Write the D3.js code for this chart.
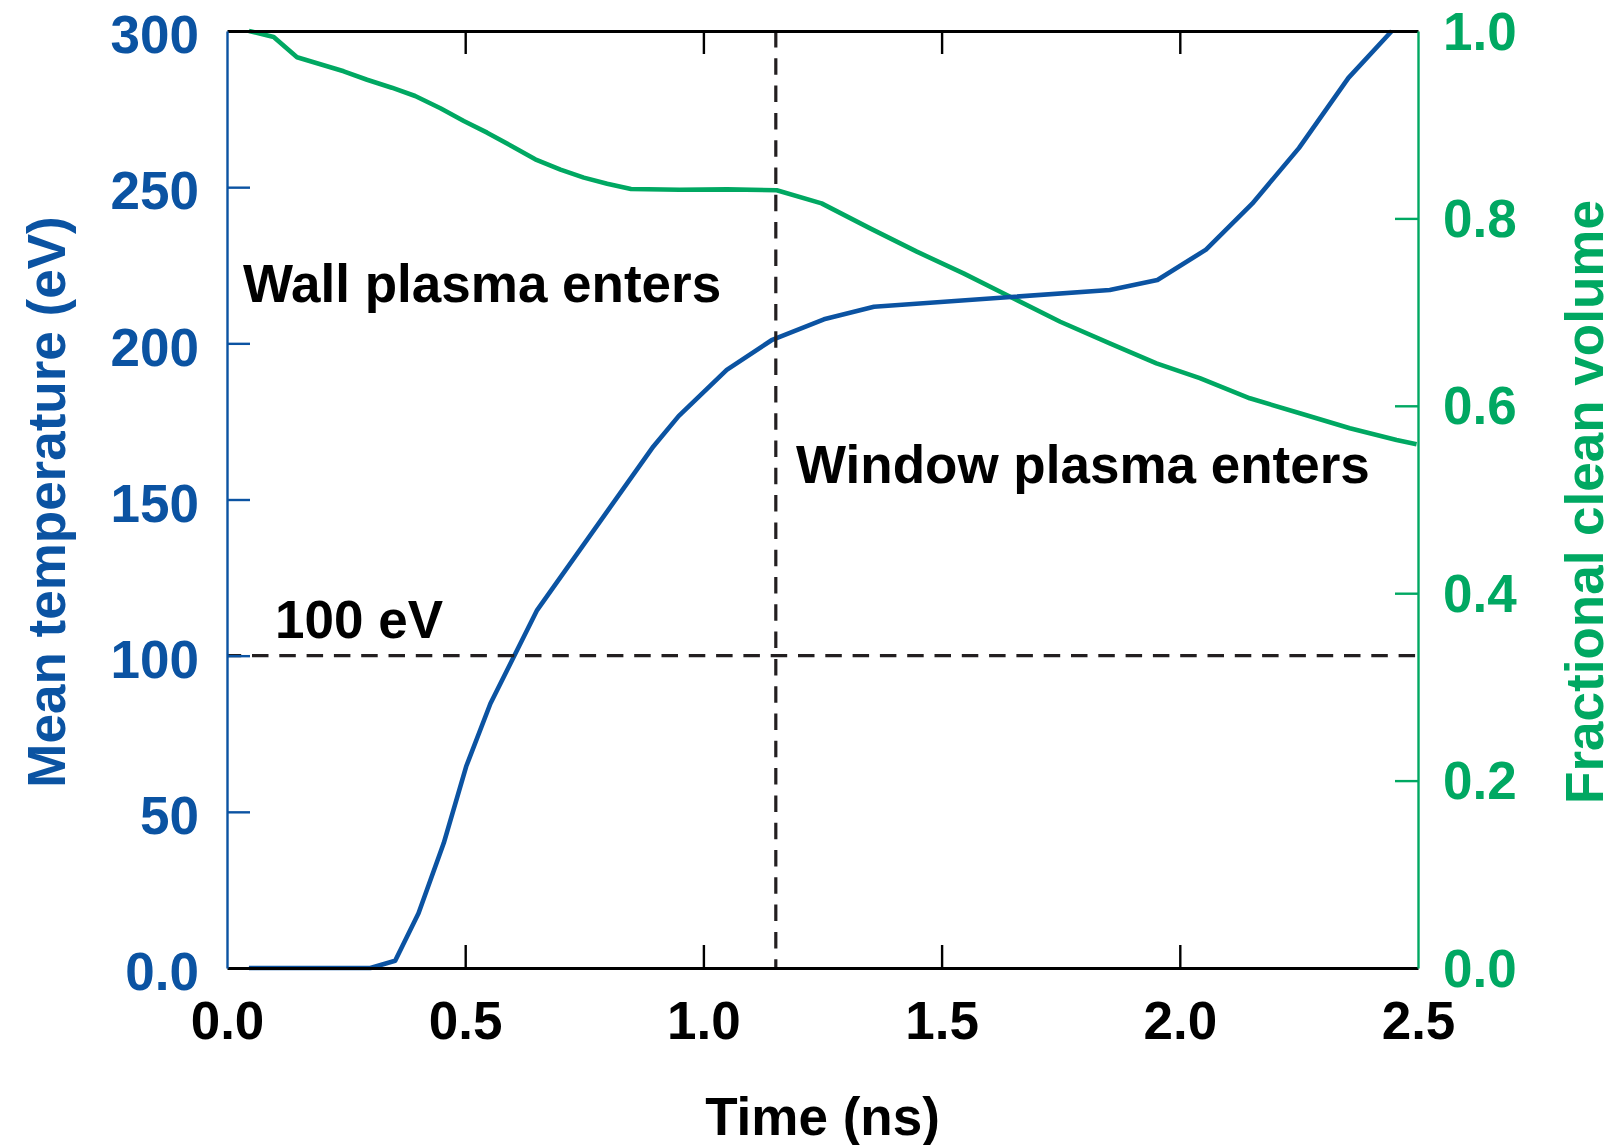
<!DOCTYPE html>
<html>
<head>
<meta charset="utf-8">
<script src="https://cdn.jsdelivr.net/npm/d3@7"></script>
<style>
  html, body { margin: 0; padding: 0; background: #fff; }
  svg { display: block; }
  text { font-family: "Liberation Sans", Arial, Helvetica, sans-serif; font-weight: bold; }
</style>
</head>
<body>
<svg id="chart" width="1616" height="1145"></svg>
<script>
// Mean temperature of the hot spot (eV) against time (ns)
const timeTemp = [0.046, 0.301, 0.353, 0.402, 0.455, 0.502, 0.553, 0.651, 0.895, 0.948,
                  1.049, 1.143, 1.253, 1.358, 1.853, 1.953, 2.055, 2.152, 2.250, 2.354, 2.445];
const meanTemp = [0, 0, 2.3, 17.5, 40, 64.5, 84.7, 114.6, 167, 176.7,
                  191.5, 201, 207.7, 211.7, 217.1, 220.3, 230, 244.7, 262.5, 285, 300];

// Fraction of the volume still free of mix, against time (ns)
const timeClean = [0.046, 0.098, 0.147, 0.196, 0.245, 0.294, 0.346, 0.395, 0.448, 0.497,
                   0.546, 0.598, 0.647, 0.700, 0.749, 0.798, 0.848, 0.950, 1.050, 1.154,
                   1.248, 1.350, 1.448, 1.546, 1.644, 1.749, 1.853, 1.951, 2.042, 2.147,
                   2.252, 2.357, 2.455, 2.497];
const cleanVolume = [1.0, 0.9936, 0.972, 0.9645, 0.957, 0.948, 0.9395, 0.9306, 0.9175, 0.904,
                     0.8915, 0.877, 0.863, 0.852, 0.8435, 0.837, 0.8314, 0.8305, 0.831, 0.830,
                     0.816, 0.7894, 0.7645, 0.7413, 0.7164, 0.6897, 0.6667, 0.6453, 0.6295, 0.608,
                     0.592, 0.576, 0.5635, 0.559];

// Axis ticks
const timeTicks = [0, 0.5, 1.0, 1.5, 2.0, 2.5];
const tempTicks = [0, 50, 100, 150, 200, 250, 300];
const cleanTicks = [0, 0.2, 0.4, 0.6, 0.8, 1.0];

// Reference markers
const thresholdTemp = 100;     // eV
const windowTime = 1.152;      // ns

const BLUE = "#0b53a2";
const GREEN = "#00a862";
const INK = "#231f20";
const FONT = 53;

const svg = d3.select("#chart");
const plotLeft = 227, plotRight = 1418, plotTop = 31, plotBottom = 968;
const titleMidY = 502;

const x = d3.scaleLinear().domain([0, 2.5]).range([plotLeft, plotRight]);
const yT = d3.scaleLinear().domain([0, 300]).range([plotBottom, plotTop]);
const yC = d3.scaleLinear().domain([0, 1]).range([plotBottom, plotTop]);

// Curves
const cleanPts = timeClean.map((t, i) => [t, cleanVolume[i]]);
const tempPts = timeTemp.map((t, i) => [t, meanTemp[i]]);

svg.append("path")
  .datum(cleanPts)
  .attr("fill", "none")
  .attr("stroke", GREEN)
  .attr("stroke-width", 4.6)
  .attr("stroke-linejoin", "round")
  .attr("d", d3.line().x(d => x(d[0])).y(d => yC(d[1])));

svg.append("path")
  .datum(tempPts)
  .attr("fill", "none")
  .attr("stroke", BLUE)
  .attr("stroke-width", 4.6)
  .attr("stroke-linejoin", "round")
  .attr("d", d3.line().x(d => x(d[0])).y(d => yT(d[1])));

// Dashed markers: 100 eV threshold and window-plasma arrival
svg.append("line")
  .attr("x1", x(0)).attr("x2", x(2.5))
  .attr("y1", yT(thresholdTemp)).attr("y2", yT(thresholdTemp))
  .attr("stroke", INK).attr("stroke-width", 3.2)
  .attr("stroke-dasharray", "16.5 10.8")
  .attr("stroke-dashoffset", 2.3);

svg.append("line")
  .attr("x1", x(windowTime)).attr("x2", x(windowTime))
  .attr("y1", yT(300)).attr("y2", yT(0))
  .attr("stroke", INK).attr("stroke-width", 3.2)
  .attr("stroke-dasharray", "16.5 10.8");

// Axes
function styleAxis(g, color, width) {
  g.select(".domain").attr("stroke", color).attr("stroke-width", width);
  g.selectAll(".tick line").attr("stroke", color).attr("stroke-width", 2.4);
  g.selectAll(".tick text")
    .attr("fill", color)
    .style("font-size", FONT + "px")
    .style("font-weight", "bold")
    .style("font-family", '"Liberation Sans", Arial, Helvetica, sans-serif');
}

const gBottom = svg.append("g")
  .attr("transform", `translate(0,${plotBottom})`)
  .call(d3.axisBottom(x).tickValues(timeTicks).tickSizeInner(-23).tickSizeOuter(0)
        .tickPadding(0).tickFormat(d3.format(".1f")));
styleAxis(gBottom, "#000", 2.8);
gBottom.selectAll(".tick text").attr("y", 71).attr("dy", 0);
gBottom.selectAll(".tick line").filter(d => d === 0 || d === 2.5).remove();

const gTop = svg.append("g")
  .attr("transform", `translate(0,${plotTop})`)
  .call(d3.axisTop(x).tickValues(timeTicks.slice(1, -1)).tickSizeInner(-23).tickSizeOuter(0)
        .tickFormat(""));
styleAxis(gTop, "#000", 2.8);

const gLeft = svg.append("g")
  .attr("transform", `translate(${plotLeft},0)`)
  .call(d3.axisLeft(yT).tickValues(tempTicks).tickSizeInner(-23).tickSizeOuter(0)
        .tickPadding(28).tickFormat(d => d === 0 ? "0.0" : d3.format("d")(d)));
styleAxis(gLeft, BLUE, 2.4);
gLeft.selectAll(".tick text").attr("dy", "0.41em");
gLeft.selectAll(".tick line").filter(d => d === 0 || d === 300).remove();

const gRight = svg.append("g")
  .attr("transform", `translate(${plotRight},0)`)
  .call(d3.axisRight(yC).tickValues(cleanTicks).tickSizeInner(-23).tickSizeOuter(0)
        .tickPadding(25).tickFormat(d3.format(".1f")));
styleAxis(gRight, GREEN, 2.4);
gRight.selectAll(".tick text").attr("dy", "0.34em");
gRight.selectAll(".tick line").filter(d => d === 0 || d === 1).remove();

// Axis titles
svg.append("text")
  .attr("x", (plotLeft + plotRight) / 2).attr("y", 1135)
  .attr("text-anchor", "middle")
  .attr("fill", "#000")
  .style("font-size", FONT + "px")
  .text("Time (ns)");

svg.append("text")
  .attr("transform", `translate(65,${titleMidY}) rotate(-90)`)
  .attr("text-anchor", "middle")
  .attr("fill", BLUE)
  .style("font-size", FONT + "px")
  .text("Mean temperature (eV)");

svg.append("text")
  .attr("transform", `translate(1603,${titleMidY}) rotate(-90)`)
  .attr("text-anchor", "middle")
  .attr("fill", GREEN)
  .style("font-size", FONT + "px")
  .text("Fractional clean volume");

// Annotations
svg.append("text")
  .attr("x", 243).attr("y", 302)
  .attr("fill", "#000")
  .style("font-size", FONT + "px")
  .text("Wall plasma enters");

svg.append("text")
  .attr("x", 796).attr("y", 483)
  .attr("fill", "#000")
  .style("font-size", FONT + "px")
  .text("Window plasma enters");

svg.append("text")
  .attr("x", 275).attr("y", 638)
  .attr("fill", "#000")
  .style("font-size", FONT + "px")
  .text("100 eV");
</script>
</body>
</html>
